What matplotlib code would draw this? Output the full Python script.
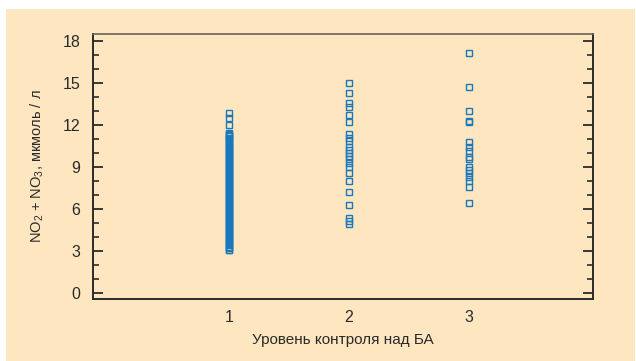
import matplotlib.pyplot as plt
from matplotlib.patches import Rectangle
from matplotlib.ticker import MultipleLocator

# --- data ---
levels = [1, 2, 3]
level_labels = ['1', '2', '3']

no_level1 = [
    12.88, 12.52, 12.02,
    11.45, 11.38, 11.3, 11.2, 11.1, 11.0, 10.9, 10.8, 10.7, 10.6, 10.5,
    10.4, 10.3, 10.2, 10.1, 10.0, 9.9, 9.8, 9.7, 9.6, 9.5, 9.4, 9.3,
    9.2, 9.1, 9.0, 8.9, 8.8, 8.7, 8.6, 8.5, 8.4, 8.3, 8.2, 8.1, 8.0,
    7.9, 7.8, 7.7, 7.6, 7.5, 7.4, 7.3, 7.2, 7.1, 7.0, 6.9, 6.8, 6.7,
    6.6, 6.5, 6.4, 6.3, 6.2, 6.1, 6.0, 5.9, 5.8, 5.7, 5.6, 5.5, 5.4,
    5.3, 5.2, 5.1, 5.0, 4.9, 4.8, 4.7, 4.6, 4.5, 4.4, 4.3, 4.2, 4.1,
    4.0, 3.9, 3.8, 3.7, 3.6, 3.5, 3.4, 3.3, 3.2, 3.1, 3.05,
]
no_level2 = [
    14.98, 14.29, 13.55, 13.31, 12.71, 12.21, 11.34, 11.05, 10.86,
    10.45, 10.21, 10.02, 9.79, 9.59, 9.26, 9.02, 8.59, 8.0, 7.21,
    6.31, 5.38, 5.16, 4.95,
]
no_level3 = [
    17.14, 14.71, 13.0, 12.26, 12.18, 10.81, 10.45, 10.16, 9.74, 9.57,
    9.02, 8.79, 8.59, 8.3, 8.02, 7.57, 6.43,
]

CREAM = '#fde6c0'
BLUE = '#1a78bd'
INK = '#2a2a2a'

plt.rcParams['font.family'] = ['Liberation Sans', 'DejaVu Sans']
plt.rcParams['mathtext.fontset'] = 'custom'
plt.rcParams['mathtext.rm'] = 'Liberation Sans'
plt.rcParams['mathtext.default'] = 'rm'

fig = plt.figure(figsize=(6.36, 3.61), dpi=100, facecolor='white')
fig.patches.append(Rectangle((6 / 636, 0), 629 / 636, 352 / 361,
                             transform=fig.transFigure, facecolor=CREAM,
                             edgecolor='none', zorder=-10))

ax = fig.add_axes([93 / 636, 1 - 299 / 361, 500 / 636, 265 / 361])
ax.set_facecolor(CREAM)

for x, vals in zip(levels, [no_level1, no_level2, no_level3]):
    ax.plot([x] * len(vals), vals, linestyle='none', marker='s',
            markersize=3.8, markerfacecolor='none', markeredgecolor=BLUE,
            markeredgewidth=1.0)

ax.set_xlim(-0.13, 4.03)
ax.set_ylim(-0.43, 18.5)
ax.set_xticks(levels)
ax.set_xticklabels(level_labels)
ax.yaxis.set_major_locator(MultipleLocator(3))
ax.yaxis.set_minor_locator(MultipleLocator(1))

ax.tick_params(axis='x', length=0, pad=8, labelsize=11.5, colors=INK)
ax.tick_params(axis='y', which='major', direction='in', length=7, width=1.3,
               left=True, right=True, labelsize=11.5, colors=INK, pad=9)
ax.tick_params(axis='y', which='minor', direction='in', length=4, width=1.2,
               left=True, right=True, colors=INK)

for side in ['left', 'right', 'bottom']:
    ax.spines[side].set_color(INK)
    ax.spines[side].set_linewidth(1.4)
ax.spines['top'].set_color('#6b6256')
ax.spines['top'].set_linewidth(1.2)

ax.set_xlabel('Уровень контроля над БА', fontsize=11, color=INK, labelpad=6)
ax.set_ylabel('NO$_2$ + NO$_3$, мкмоль / л', fontsize=10.5, color=INK,
              labelpad=12)

fig.savefig('out.png', dpi=100, facecolor=fig.get_facecolor())
